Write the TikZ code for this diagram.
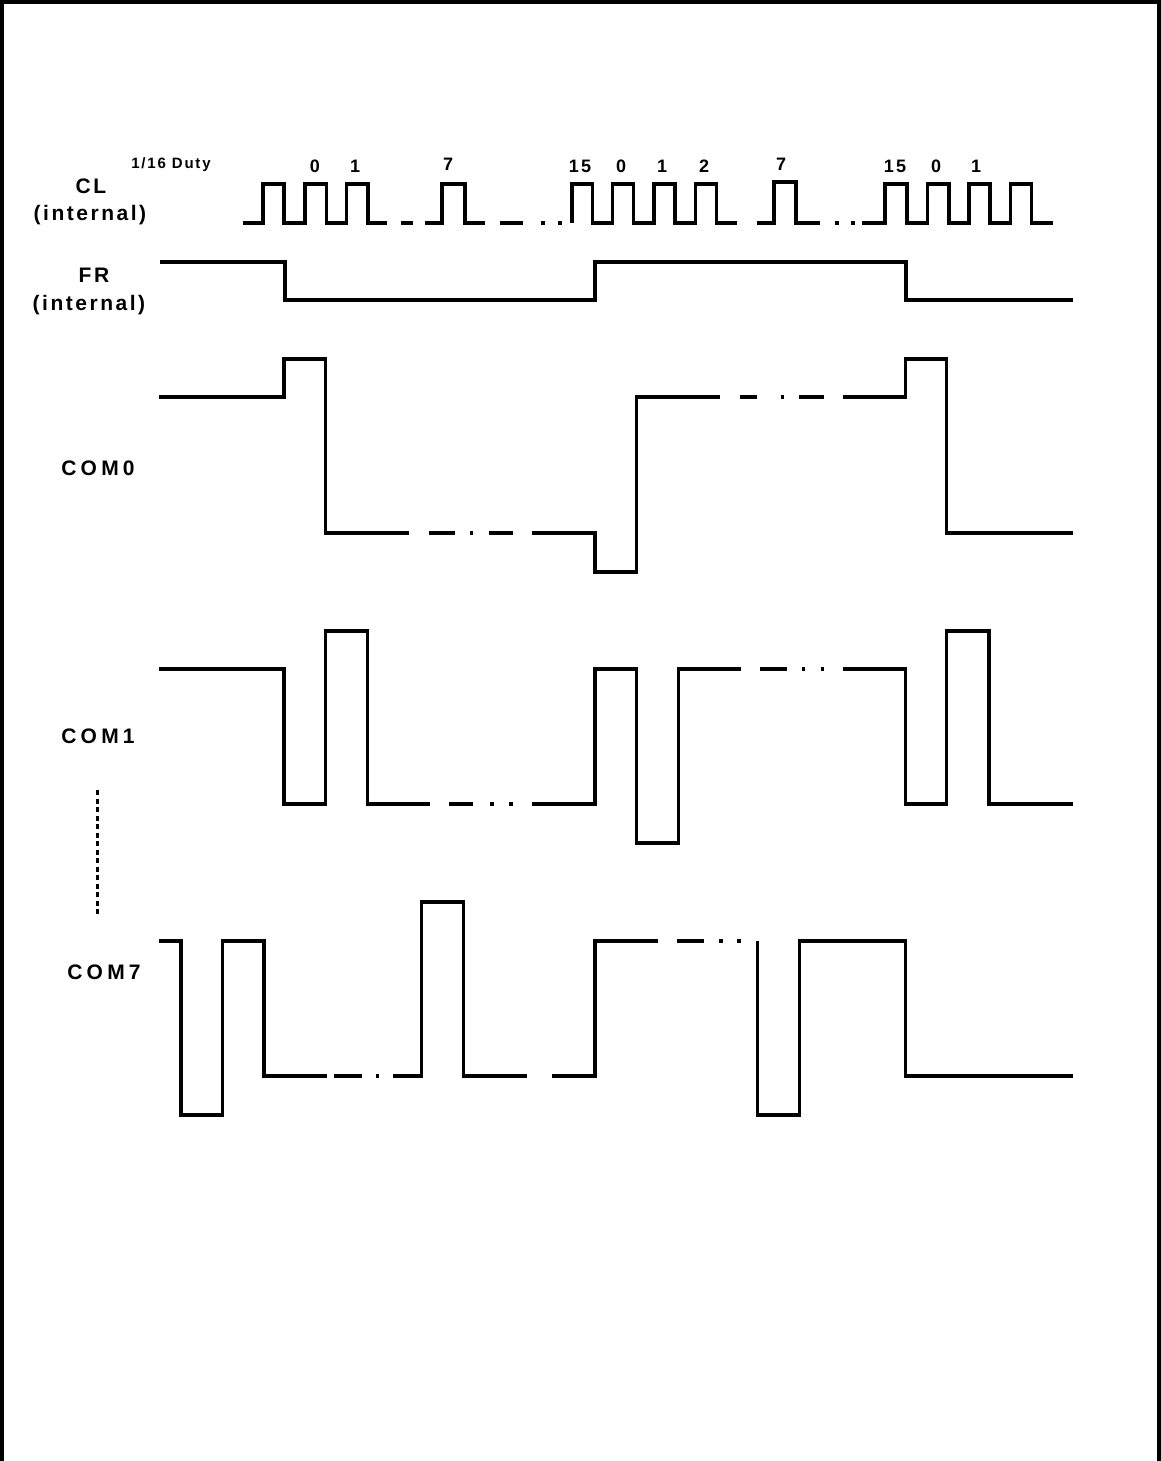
\documentclass[tikz,border=0pt]{standalone}
\usepackage{fontspec}
\setmainfont{Liberation Sans}
\newfontfamily\lblfont{Liberation Sans}[UprightFont={* Bold}, LetterSpace=12]
\newfontfamily\comfont{Liberation Sans}[UprightFont={* Bold}, LetterSpace=20]
\tikzset{
  wave/.style={line width=3.1pt, line join=miter},
  frame/.style={line width=4.5pt},
  lbl/.style={font=\lblfont\fontsize{21}{24}\selectfont, inner sep=0pt},
  comlbl/.style={font=\comfont\fontsize{21}{24}\selectfont, inner sep=0pt},
  num/.style={font=\lblfont\fontsize{18}{21}\selectfont, inner sep=0pt},
  duty/.style={font=\lblfont\fontsize{15}{17}\selectfont, inner sep=0pt},
  vdash/.style={line width=3pt, dash pattern=on 5pt off 3.5pt}
}
\newcommand{\wdot}[2]{\draw[wave] (#1-1.8,#2) -- (#1+1.8,#2);}
\begin{document}
\begin{tikzpicture}[x=1pt,y=-1pt]
\useasboundingbox (0,0) rectangle (1161,1461);
% frame (top, left, right)
\draw[frame] (2.2,1461) -- (2.2,2.2) -- (1158.8,2.2) -- (1158.8,1461);

% ---------- labels ----------
\node[lbl] (cl) at (91,186) {CL};
\node[lbl] (clint) at (90,215) {(internal)};
\node[duty] (dutylbl) at (171,165) {1/16 Duty};
\node[lbl] (fr) at (94,275) {FR};
\node[lbl] (frint) at (89,305) {(internal)};
\node[comlbl] (com0) at (98,468) {COM0};
\node[comlbl] (com1) at (98,736) {COM1};
\node[comlbl] (com7) at (104,972) {COM7};

\node[num] (n0a) at (315,166) {0};
\node[num] (n1a) at (355,166) {1};
\node[num] (n7a) at (448,164) {7};
\node[num] (n15a) at (580,166) {15};
\node[num] (n0b) at (621,166) {0};
\node[num] (n1b) at (662,166) {1};
\node[num] (n2b) at (704,166) {2};
\node[num] (n7b) at (781,164) {7};
\node[num] (n15b) at (895,166) {15};
\node[num] (n0c) at (936,166) {0};
\node[num] (n1c) at (976,166) {1};

% vertical dashed ellipsis
\coordinate (vd1) at (97.5,790);
\coordinate (vd2) at (97.5,917);
\draw[vdash] (vd1) -- (vd2);

% ---------- CL ----------
\draw[wave] (243,223) -- (263,223) -- (263,184) -- (284,184) -- (284,223) -- (305,223) -- (305,184) -- (326.5,184) -- (326.5,223) -- (346.5,223) -- (346.5,184) -- (368,184) -- (368,223) -- (387,223);
\draw[wave] (401,223) -- (413,223);
\draw[wave] (425,223) -- (442,223) -- (442,184) -- (465,184) -- (465,223) -- (485,223);
\draw[wave] (500,223) -- (523,223);
\wdot{543}{223} \wdot{560}{223}
\draw[wave] (572,223) -- (572,184) -- (592.5,184) -- (592.5,223) -- (612.5,223) -- (612.5,184) -- (633.5,184) -- (633.5,223) -- (654,223) -- (654,184) -- (675,184) -- (675,223) -- (695.5,223) -- (695.5,184) -- (716.5,184) -- (716.5,223) -- (737,223);
\draw[wave] (757,223) -- (774,223) -- (774,182) -- (796,182) -- (796,223) -- (820,223);
\wdot{837}{223} \wdot{853}{223}
\draw[wave] (862,223) -- (885,223) -- (885,184) -- (907,184) -- (907,223) -- (927.5,223) -- (927.5,184) -- (949,184) -- (949,223) -- (969,223) -- (969,184) -- (990,184) -- (990,223) -- (1010.5,223) -- (1010.5,184) -- (1031.5,184) -- (1031.5,223) -- (1052.5,223);

% ---------- FR ----------
\draw[wave] (160,262) -- (285,262) -- (285,300) -- (595,300) -- (595,262) -- (906,262) -- (906,300) -- (1072.5,300);

% ---------- COM0 ----------
\draw[wave] (159,397) -- (284,397) -- (284,359) -- (325.7,359) -- (325.7,533) -- (409,533);
\draw[wave] (429,533) -- (455,533);
\wdot{471.5}{533}
\draw[wave] (489,533) -- (513,533);
\draw[wave] (532,533) -- (595,533) -- (595,572) -- (636.7,572) -- (636.7,397) -- (720,397);
\draw[wave] (740,397) -- (757,397);
\wdot{782.5}{397}
\draw[wave] (799,397) -- (824,397);
\draw[wave] (843,397) -- (905.7,397) -- (905.7,359) -- (946.7,359) -- (946.7,533) -- (1073,533);

% ---------- COM1 ----------
\draw[wave] (159,669) -- (284,669) -- (284,804) -- (325.7,804) -- (325.7,631) -- (367.3,631) -- (367.3,804) -- (430,804);
\draw[wave] (449,804) -- (473,804);
\wdot{491.7}{804} \wdot{511}{804}
\draw[wave] (532,804) -- (595,804) -- (595,669) -- (636.7,669) -- (636.7,843) -- (678.3,843) -- (678.3,669) -- (741,669);
\draw[wave] (760,669) -- (787,669);
\wdot{803.3}{669} \wdot{822.3}{669}
\draw[wave] (843,669) -- (905.7,669) -- (905.7,804) -- (946.7,804) -- (946.7,631) -- (989,631) -- (989,804) -- (1073,804);

% ---------- COM7 ----------
\draw[wave] (159,941) -- (181,941) -- (181,1115) -- (222.3,1115) -- (222.3,941) -- (264,941) -- (264,1076) -- (326.7,1076);
\draw[wave] (334,1076) -- (362,1076);
\wdot{377.3}{1076}
\draw[wave] (393,1076) -- (421.7,1076) -- (421.7,902) -- (463.3,902) -- (463.3,1076) -- (526.7,1076);
\draw[wave] (552,1076) -- (595,1076) -- (595,941) -- (657.7,941);
\draw[wave] (677,941) -- (704,941);
\wdot{721}{941} \wdot{739}{941}
\draw[wave] (757.7,941) -- (757.7,1115) -- (799.3,1115) -- (799.3,941) -- (905.7,941) -- (905.7,1076) -- (1073,1076);
\end{tikzpicture}
\end{document}
